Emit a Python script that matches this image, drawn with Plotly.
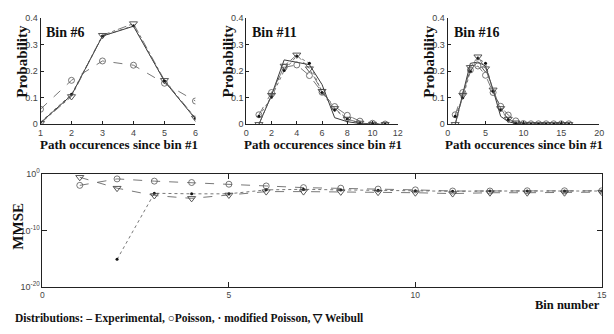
import plotly.graph_objects as go

# ---------------- data ----------------
x6 = [1, 2, 3, 4, 5, 6]
exp6 = [0.006, 0.11, 0.333, 0.37, 0.163, 0.02]
pois6 = [0.057, 0.166, 0.239, 0.223, 0.155, 0.088]
mod6 = [0.008, 0.113, 0.333, 0.372, 0.163, 0.022]
weib6 = [0.004, 0.105, 0.336, 0.38, 0.166, 0.024]

x11 = [1, 2, 3, 4, 5, 6, 7, 8, 9, 10, 11]
exp11 = [0.0, 0.11, 0.243, 0.233, 0.225, 0.15, 0.025, 0.01, 0.003, 0.0, 0.0]
pois11 = [0.036, 0.12, 0.215, 0.224, 0.184, 0.121, 0.067, 0.034, 0.012, 0.004, 0.001]
mod11 = [0.03, 0.103, 0.203, 0.258, 0.23, 0.12, 0.055, 0.02, 0.005, 0.001, 0.0]
weib11 = [0.0, 0.11, 0.22, 0.262, 0.21, 0.125, 0.06, 0.02, 0.005, 0.001, 0.0]

x16 = list(range(1, 17))
exp16 = [0.0, 0.11, 0.23, 0.235, 0.22, 0.13, 0.03, 0.01, 0.003, 0.0, 0.0, 0.0, 0.0, 0.0, 0.0, 0.0]
pois16 = [0.036, 0.12, 0.205, 0.22, 0.185, 0.12, 0.068, 0.035, 0.013, 0.003, 0.002, 0.002, 0.002, 0.002, 0.002, 0.002]
mod16 = [0.03, 0.10, 0.20, 0.25, 0.23, 0.125, 0.055, 0.018, 0.005, 0.001, 0.0, 0.0, 0.0, 0.0, 0.0, 0.0]
weib16 = [0.0, 0.11, 0.215, 0.255, 0.21, 0.13, 0.06, 0.02, 0.006, 0.001, 0.0, 0.0, 0.0, 0.0, 0.0, 0.0]

bins = list(range(1, 16))
mmse_pois = [1e-2, 1.4e-1, 5.6e-2, 3.2e-2, 1.6e-2, 7.9e-3, 4.0e-3,
             3.2e-3, 2.2e-3, 1.6e-3, 1.0e-3, 1.0e-3, 1.1e-3, 1.1e-3, 1.1e-3]
mmse_mod = [None, 8e-16, 4.0e-4, 3.2e-4, 3.2e-4, 1.6e-3, 2.0e-3,
            1.6e-3, 1.3e-3, 1.1e-3, 9e-4, 1.0e-3, 1.0e-3, 1.0e-3, 1.0e-3]
mmse_weib = [2.7e-1, 3.2e-3, 1.6e-4, 5e-5, 2.0e-4, 7.9e-4, 7.9e-4,
             7.1e-4, 6.3e-4, 5.0e-4, 3.5e-4, 5.0e-4, 5.0e-4, 5.0e-4, 6.3e-4]

panels = [
    ("Bin #6", x6, exp6, pois6, mod6, weib6, [1, 6], [1, 2, 3, 4, 5, 6]),
    ("Bin #11", x11, exp11, pois11, mod11, weib11, [0, 12], [0, 2, 4, 6, 8, 10, 12]),
    ("Bin #16", x16, exp16, pois16, mod16, weib16, [0, 20], [0, 5, 10, 15, 20]),
]
prob_ticks = [0, 0.1, 0.2, 0.3, 0.4]
prob_text = ["0", "0.1", "0.2", "0.3", "0.4"]

# ---------------- layout geometry ----------------
W, H = 614, 334
def fx(px): return px / W
def fy(py): return 1 - py / H

top_x = [(38, 195), (246.5, 400), (450.5, 604)]
top_y = (11.7, 121.7)
bot_x = (40, 606.7)
bot_y = (173.3, 290.5)

SERIF = "Liberation Serif, Times New Roman, serif"
SANS = "Liberation Sans Narrow, Liberation Sans, Arial, sans-serif"
LC = "#3a3a3a"
TICKFONT = dict(family=SANS, size=9, color="#444")

fig = go.Figure()
annotations = []

for i, (title, xs, e, p, m, w, xr, xt) in enumerate(panels):
    n = i + 1
    xa = "x" if n == 1 else f"x{n}"
    ya = "y" if n == 1 else f"y{n}"
    common = dict(x=xs, xaxis=xa, yaxis=ya, showlegend=False, hoverinfo="skip")
    fig.add_trace(go.Scatter(y=e, mode="lines", line=dict(color=LC, width=1), **common))
    fig.add_trace(go.Scatter(y=p, mode="lines+markers", line=dict(color="#555", width=0.8, dash="dash"),
                             marker=dict(symbol="circle-open", size=6, color="#555", line=dict(width=0.8)), **common))
    fig.add_trace(go.Scatter(y=m, mode="lines+markers", line=dict(color="#555", width=0.8, dash="dot"),
                             marker=dict(symbol="circle", size=3, color="#111"), **common))
    fig.add_trace(go.Scatter(y=w, mode="lines+markers", line=dict(color="#555", width=0.8, dash="dashdot"),
                             marker=dict(symbol="triangle-down-open", size=7, color="#444", line=dict(width=0.9)), **common))
    x0, x1 = top_x[i]
    axx = dict(domain=[fx(x0), fx(x1)], range=xr, tickvals=xt, ticktext=[str(v) for v in xt],
               showline=True, linecolor="#222", linewidth=1, ticks="inside", ticklen=3, tickcolor="#222",
               showgrid=False, zeroline=False, tickfont=TICKFONT, anchor=ya)
    axy = dict(domain=[fy(top_y[1]), fy(top_y[0])], range=[0, 0.4], tickvals=prob_ticks, ticktext=prob_text,
               showline=True, linecolor="#222", linewidth=1, ticks="inside", ticklen=3, tickcolor="#222",
               showgrid=False, zeroline=False, tickfont=TICKFONT, anchor=xa)
    fig.layout["xaxis" if n == 1 else f"xaxis{n}"] = axx
    fig.layout["yaxis" if n == 1 else f"yaxis{n}"] = axy
    # labels
    annotations.append(dict(x=fx(x0 + 4), y=fy(26), xref="paper", yref="paper", xanchor="left", yanchor="middle",
                            text=f"<b>{title}</b>", showarrow=False, font=dict(family=SERIF, size=14, color="#111")))
    annotations.append(dict(x=fx(x0 - 19), y=fy(56), xref="paper", yref="paper", xanchor="center", yanchor="middle",
                            text="<b>Probability</b>", textangle=-90, showarrow=False,
                            font=dict(family=SERIF, size=15, color="#111")))
    annotations.append(dict(x=fx((x0 + x1) / 2 + 1), y=fy(143), xref="paper", yref="paper", xanchor="center",
                            yanchor="middle", text="<b>Path occurences since bin #1</b>", showarrow=False,
                            font=dict(family=SERIF, size=13, color="#111")))

# bottom MMSE panel
common = dict(x=bins, xaxis="x4", yaxis="y4", showlegend=False, hoverinfo="skip")
fig.add_trace(go.Scatter(y=mmse_pois, mode="lines+markers", line=dict(color="#555", width=0.8, dash="dash"),
                         marker=dict(symbol="circle-open", size=6, color="#555", line=dict(width=0.8)), **common))
fig.add_trace(go.Scatter(y=mmse_mod, mode="lines+markers", line=dict(color="#555", width=0.8, dash="dot"),
                         marker=dict(symbol="circle", size=3, color="#111"), **common))
fig.add_trace(go.Scatter(y=mmse_weib, mode="lines+markers", line=dict(color="#555", width=0.8, dash="dash"),
                         marker=dict(symbol="triangle-down-open", size=7, color="#444", line=dict(width=0.9)), **common))

fig.layout["xaxis4"] = dict(domain=[fx(bot_x[0]), fx(bot_x[1])], range=[0, 15], tickvals=[0, 5, 10, 15],
                            showline=True, mirror="ticks", linecolor="#222", linewidth=1, ticks="inside",
                            ticklen=5, tickcolor="#222", showgrid=False, zeroline=False,
                            tickfont=dict(family=SANS, size=8.5, color="#444"), anchor="y4")
fig.layout["yaxis4"] = dict(domain=[fy(bot_y[1]), fy(bot_y[0])], type="log", range=[-20, 0],
                            tickvals=[1e-20, 1e-10, 1e0],
                            ticktext=["10<sup>-20</sup>", "10<sup>-10</sup>", "10<sup>0</sup>"],
                            showline=True, mirror="ticks", linecolor="#222", linewidth=1, ticks="inside",
                            ticklen=5, tickcolor="#222", showgrid=False, zeroline=False, tickfont=TICKFONT,
                            anchor="x4")

annotations.append(dict(x=fx(15), y=fy(227), xref="paper", yref="paper", xanchor="center", yanchor="middle",
                        text="<b>MMSE</b>", textangle=-90, showarrow=False,
                        font=dict(family=SERIF, size=15, color="#111")))
annotations.append(dict(x=fx(607), y=fy(309), xref="paper", yref="paper", xanchor="right", yanchor="middle",
                        text="<b>Bin number</b>", showarrow=False, font=dict(family=SERIF, size=12.5, color="#111")))
annotations.append(dict(x=fx(10), y=fy(323), xref="paper", yref="paper", xanchor="left", yanchor="middle",
                        text="<b>Distributions: \u2013 Experimental, \u25cbPoisson, \u00b7 modified Poisson, \u25bd Weibull</b>",
                        showarrow=False, font=dict(family=SERIF, size=11.5, color="#111")))

fig.update_layout(width=W, height=H, margin=dict(l=0, r=0, t=0, b=0), paper_bgcolor="white",
                  plot_bgcolor="white", annotations=annotations)

fig.write_html("out.html")
